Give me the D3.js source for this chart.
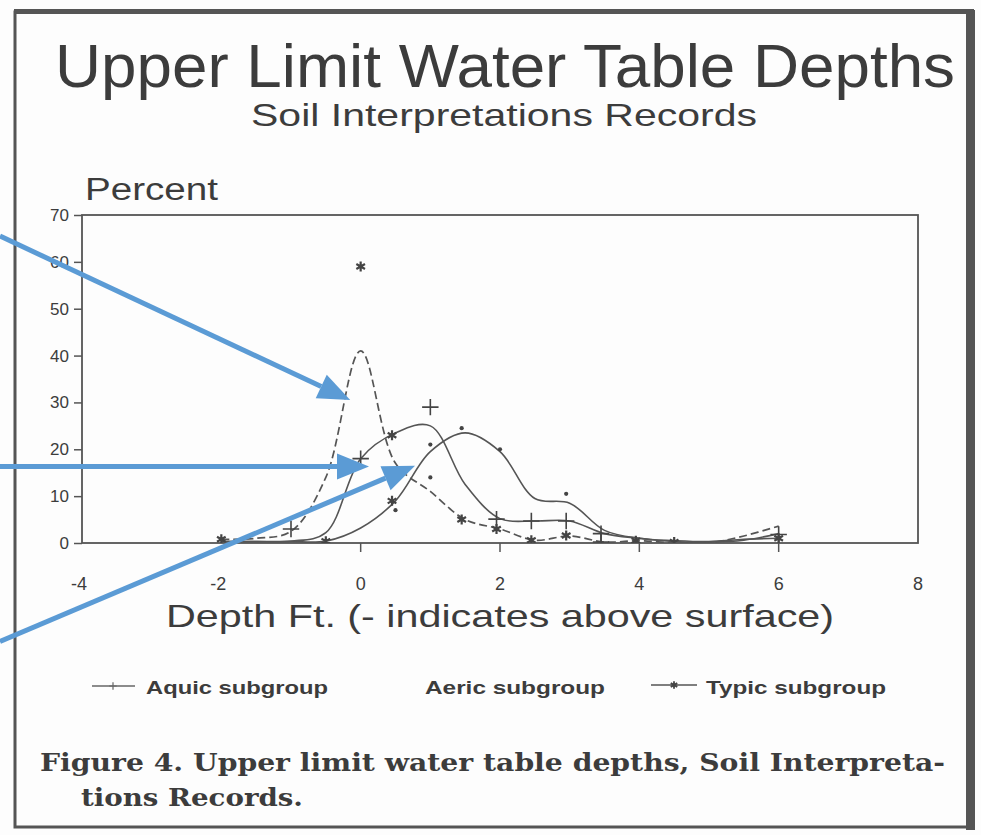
<html>
<head>
<script src="https://d3js.org/d3.v7.min.js"></script>
<style>
  body { margin: 0; background: #fff; }
  svg text { fill: #3c3c3c; }
</style>
</head>
<body>
<svg id="chart" width="981" height="835"></svg>
<script>
// depth in feet, half-foot steps (- means above the surface)
const depths = [-2, -1.5, -1, -0.5, 0, 0.5, 1, 1.5, 2, 2.5, 3, 3.5, 4, 4.5, 5, 5.5, 6];

// smoothed curves, percent of records
const typicCurve = [0.8, 1, 2.5, 14, 41, 17, 11, 5, 3, 0.6, 1.5, 0.2, 0.5, 0, 0, 1.5, 3.6];
const aquicCurve = [0.3, 0.3, 0.4, 2.2, 18, 23.5, 25, 12.5, 5.2, 4.7, 4.7, 2, 1, 0.3, 0.2, 0.6, 2];
const aericCurve = [0.3, 0.3, 0.3, 0.4, 3.2, 9, 19.5, 23.5, 19.5, 9.5, 8.5, 2.7, 1, 0.5, 0.3, 0.8, 1];

// plotted record points [depth, percent]
const typicPoints = [[-2, 0.8], [-0.5, 0.4], [0, 59], [0.45, 23], [0.45, 9], [1.45, 5], [1.95, 3], [2.45, 0.6], [2.95, 1.6], [3.95, 0.5], [4.5, 0.2], [6, 1]];
const aquicPoints = [[-1, 3], [0, 18], [1, 29], [1.95, 5.1], [2.45, 4.7], [2.95, 4.7], [3.45, 2], [3.45, 0.2], [6, 1.8]];
const aericPoints = [[0.5, 7], [1, 21], [1.45, 24.5], [2, 20], [2.95, 10.5], [1, 14]];

const xTicks = [-4, -2, 0, 2, 4, 6, 8];
const xTickMarks = [0, 2, 4, 6];
const yTicks = [0, 10, 20, 30, 40, 50, 60, 70];

// annotation arrows: start (screen x, percent) -> tip (depth, percent)
const arrows = [
  { x0: 0, y0: 65.5, x1: -0.15, y1: 30.5 },
  { x0: 0, y0: 16.3, x1: 0.12, y1: 16.3 },
  { x0: 0, y0: -21, x1: 0.78, y1: 16.5 }
];

const svg = d3.select("svg#chart");

// paper + frame
svg.append("rect").attr("x", 0).attr("y", 0).attr("width", 981).attr("height", 835).attr("fill", "#fdfdfd");
svg.append("rect").attr("x", 15).attr("y", 12).attr("width", 954).attr("height", 815)
  .attr("fill", "none").attr("stroke", "#555").attr("stroke-width", 3);
svg.append("rect").attr("x", 966).attr("y", 10).attr("width", 9).attr("height", 820).attr("fill", "#555");
svg.append("rect").attr("x", 14).attr("y", 9).attr("width", 960).attr("height", 5).attr("fill", "#555");

// scales
const xScale = d3.scaleLinear().domain([-4, 8]).range([82, 918]);
const yScale = d3.scaleLinear().domain([0, 70]).range([543, 215]);

// titles
svg.append("text").attr("x", 55).attr("y", 87).attr("font-family", "Liberation Sans, Arial")
  .attr("font-size", 62).attr("textLength", 900).attr("lengthAdjust", "spacingAndGlyphs")
  .text("Upper Limit Water Table Depths");
svg.append("text").attr("x", 251).attr("y", 126).attr("font-family", "Liberation Sans, Arial")
  .attr("font-size", 32).attr("textLength", 506).attr("lengthAdjust", "spacingAndGlyphs")
  .text("Soil Interpretations Records");
svg.append("text").attr("x", 85).attr("y", 200).attr("font-family", "Liberation Sans, Arial")
  .attr("font-size", 31).attr("textLength", 133).attr("lengthAdjust", "spacingAndGlyphs")
  .text("Percent");

// plot frame
svg.append("rect").attr("x", xScale(-4)).attr("y", yScale(70))
  .attr("width", xScale(8) - xScale(-4)).attr("height", yScale(0) - yScale(70))
  .attr("fill", "none").attr("stroke", "#555").attr("stroke-width", 1.8);

// y axis
const yAxis = svg.append("g").attr("transform", `translate(${xScale(-4)},0)`)
  .call(d3.axisLeft(yScale).tickValues(yTicks).tickSize(8).tickPadding(5));
yAxis.select(".domain").remove();
yAxis.selectAll("line").attr("stroke", "#555").attr("stroke-width", 1.5);
yAxis.selectAll("text").attr("font-family", "Liberation Sans, Arial").attr("font-size", 17).attr("fill", "#3c3c3c");

// x axis ticks + labels
svg.append("g").selectAll("line").data(xTickMarks).join("line")
  .attr("x1", d => xScale(d)).attr("x2", d => xScale(d))
  .attr("y1", yScale(0)).attr("y2", yScale(0) + 9)
  .attr("stroke", "#555").attr("stroke-width", 1.5);
svg.append("g").selectAll("text").data(xTicks).join("text")
  .attr("x", d => xScale(d) + (d < 0 ? -3 : 0)).attr("y", 590)
  .attr("text-anchor", "middle").attr("font-family", "Liberation Sans, Arial").attr("font-size", 18)
  .text(d => d);
svg.append("text").attr("x", 166).attr("y", 627).attr("font-family", "Liberation Sans, Arial")
  .attr("font-size", 32).attr("textLength", 668).attr("lengthAdjust", "spacingAndGlyphs")
  .text("Depth Ft. (- indicates above surface)");

// curves
svg.append("clipPath").attr("id", "plotclip").append("rect")
  .attr("x", xScale(-4)).attr("y", yScale(70))
  .attr("width", xScale(8) - xScale(-4)).attr("height", yScale(0) - yScale(70));

const line = d3.line()
  .x((d, i) => xScale(depths[i]))
  .y(d => yScale(d))
  .curve(d3.curveCatmullRom.alpha(0.5));

const plot = svg.append("g").attr("clip-path", "url(#plotclip)");
plot.append("path").datum(aericCurve).attr("d", line)
  .attr("fill", "none").attr("stroke", "#555").attr("stroke-width", 1.6);
plot.append("path").datum(aquicCurve).attr("d", line)
  .attr("fill", "none").attr("stroke", "#555").attr("stroke-width", 1.6);
plot.append("path").datum(typicCurve).attr("d", line)
  .attr("fill", "none").attr("stroke", "#555").attr("stroke-width", 1.7).attr("stroke-dasharray", "8,4");

// markers
const star = d3.symbol(d3.symbolAsterisk, 70);
const plus = d3.symbol(d3.symbolPlus, 90);
const dot = d3.symbol(d3.symbolCircle, 14);

plot.append("g").selectAll("path").data(typicPoints).join("path")
  .attr("transform", d => `translate(${xScale(d[0])},${yScale(d[1])})`)
  .attr("d", star).attr("fill", "none").attr("stroke", "#444").attr("stroke-width", 2.2);
plot.append("g").selectAll("path").data(aquicPoints).join("path")
  .attr("transform", d => `translate(${xScale(d[0])},${yScale(d[1])})`)
  .attr("d", plus).attr("fill", "none").attr("stroke", "#444").attr("stroke-width", 1.6);
plot.append("g").selectAll("path").data(aericPoints).join("path")
  .attr("transform", d => `translate(${xScale(d[0])},${yScale(d[1])})`)
  .attr("d", dot).attr("fill", "#444");

// legend
const legendFont = "Liberation Sans, Arial";
const lg = svg.append("g");
lg.append("line").attr("x1", 92).attr("x2", 135).attr("y1", 686).attr("y2", 686).attr("stroke", "#666").attr("stroke-width", 1.5);
lg.append("path").attr("transform", "translate(113,686)").attr("d", d3.symbol(d3.symbolPlus, 20)).attr("fill", "none").attr("stroke", "#666").attr("stroke-width", 1.2);
lg.append("text").attr("x", 146).attr("y", 694).attr("font-family", legendFont).attr("font-weight", "bold")
  .attr("font-size", 19).attr("textLength", 182).attr("lengthAdjust", "spacingAndGlyphs").attr("fill", "#454545").text("Aquic subgroup");
lg.append("text").attr("x", 425).attr("y", 694).attr("font-family", legendFont).attr("font-weight", "bold")
  .attr("font-size", 19).attr("textLength", 180).attr("lengthAdjust", "spacingAndGlyphs").attr("fill", "#454545").text("Aeric subgroup");
lg.append("line").attr("x1", 651).attr("x2", 697).attr("y1", 685).attr("y2", 685).attr("stroke", "#555").attr("stroke-width", 1.5);
lg.append("path").attr("transform", "translate(674,685)").attr("d", d3.symbol(d3.symbolAsterisk, 40)).attr("fill", "none").attr("stroke", "#444").attr("stroke-width", 1.8);
lg.append("text").attr("x", 706).attr("y", 694).attr("font-family", legendFont).attr("font-weight", "bold")
  .attr("font-size", 19).attr("textLength", 180).attr("lengthAdjust", "spacingAndGlyphs").attr("fill", "#454545").text("Typic subgroup");

// caption
svg.append("text").attr("x", 40).attr("y", 771).attr("font-family", "DejaVu Serif, serif").attr("font-weight", "bold")
  .attr("font-size", 25).attr("textLength", 905).attr("lengthAdjust", "spacingAndGlyphs")
  .text("Figure 4. Upper limit water table depths, Soil Interpreta-");
svg.append("text").attr("x", 81).attr("y", 806).attr("font-family", "DejaVu Serif, serif").attr("font-weight", "bold")
  .attr("font-size", 25).attr("textLength", 222).attr("lengthAdjust", "spacingAndGlyphs")
  .text("tions Records.");

// blue annotation arrows
const blue = "#5b9bd5";
arrows.forEach(a => {
  const sx = a.x0, sy = yScale(a.y0);
  const tx = xScale(a.x1), ty = yScale(a.y1);
  const ang = Math.atan2(ty - sy, tx - sx);
  const headLen = 32, headW = 13;
  const bx = tx - headLen * Math.cos(ang), by = ty - headLen * Math.sin(ang);
  svg.append("line").attr("x1", sx).attr("y1", sy).attr("x2", bx).attr("y2", by)
    .attr("stroke", blue).attr("stroke-width", 5);
  const px = -Math.sin(ang), py = Math.cos(ang);
  svg.append("path")
    .attr("d", `M${tx},${ty}L${bx + px * headW},${by + py * headW}L${bx - px * headW},${by - py * headW}Z`)
    .attr("fill", blue);
});
</script>
</body>
</html>
